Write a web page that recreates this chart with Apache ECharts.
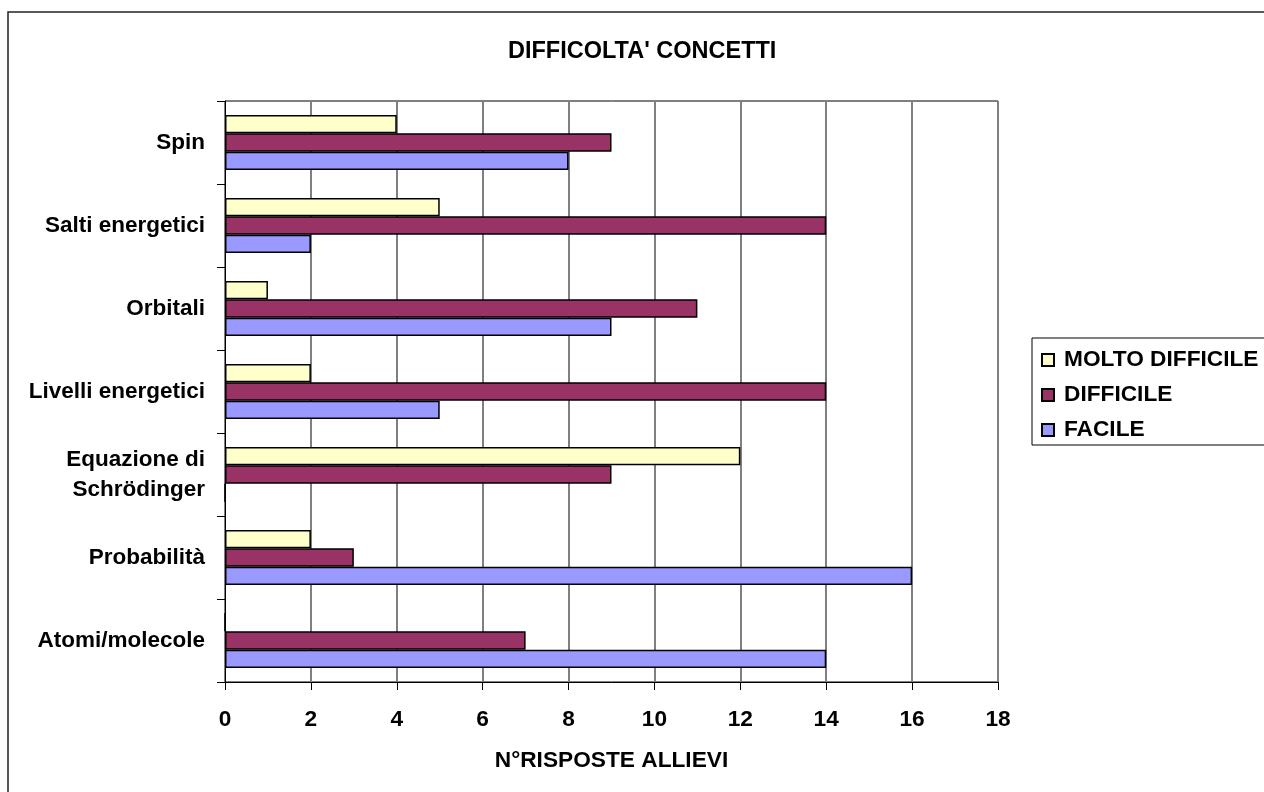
<!DOCTYPE html>
<html>
<head>
<meta charset="utf-8">
<title>DIFFICOLTA' CONCETTI</title>
<script src="https://cdn.jsdelivr.net/npm/echarts@6/dist/echarts.min.js"></script>
<style>
  html, body { margin: 0; padding: 0; background: #fff; }
  #chart { width: 1264px; height: 792px; }
</style>
</head>
<body>
<div id="chart"></div>
<script>
// Concepts, listed bottom to top along the category axis
const categories = [
  'Atomi/molecole',
  'Probabilità',
  'Equazione di\nSchrödinger',
  'Livelli energetici',
  'Orbitali',
  'Salti energetici',
  'Spin'
];

// Number of student answers per difficulty level
const moltoDifficile = [0, 2, 12, 2, 1, 5, 4];
const difficile = [7, 3, 9, 14, 11, 14, 9];
const facile = [14, 16, 0, 5, 9, 2, 8];

const xTicks = { min: 0, max: 18, interval: 2 };

const FONT = "'Liberation Sans', Arial, Helvetica, sans-serif";

const chart = echarts.init(document.getElementById('chart'), null, { renderer: 'canvas' });

const barBorder = { borderColor: '#000', borderWidth: 1.5 };

chart.setOption({
  backgroundColor: '#fff',
  animation: false,
  title: {
    text: "DIFFICOLTA' CONCETTI",
    left: 508,
    top: 40,
    padding: 0,
    textStyle: { fontFamily: FONT, fontSize: 23.5, fontWeight: 'bold', color: '#000', lineHeight: 23 }
  },
  graphic: [{
    type: 'rect',
    silent: true,
    shape: { x: 8, y: 12, width: 1300, height: 820 },
    style: { fill: null, stroke: '#222', lineWidth: 1.5 },
    z: 0
  }],
  legend: {
    data: ['MOLTO DIFFICILE', 'DIFFICILE', 'FACILE'],
    orient: 'vertical',
    left: 1032,
    top: 338,
    padding: [10, 30, 3, 9],
    itemGap: 11,
    itemWidth: 12,
    itemHeight: 12,
    icon: 'rect',
    borderColor: '#000',
    borderWidth: 1,
    selectedMode: false,
    textStyle: { fontFamily: FONT, fontSize: 22.7, fontWeight: 'bold', color: '#000', lineHeight: 24, padding: [0, 0, 0, 5] }
  },
  grid: {
    left: 225,
    right: 266,
    top: 101,
    bottom: 110,
    show: true,
    borderColor: '#000',
    borderWidth: 1,
    containLabel: false
  },
  xAxis: {
    type: 'value',
    min: xTicks.min,
    max: xTicks.max,
    interval: xTicks.interval,
    name: 'N°RISPOSTE ALLIEVI',
    nameLocation: 'middle',
    nameGap: 67,
    nameTextStyle: { fontFamily: FONT, fontSize: 22.7, fontWeight: 'bold', color: '#000' },
    axisLine: { show: true, lineStyle: { color: '#000', width: 1 } },
    axisTick: { show: true, length: 8, inside: false, lineStyle: { color: '#000' } },
    axisLabel: { margin: 26, fontFamily: FONT, fontSize: 22.7, fontWeight: 'bold', color: '#000' },
    splitLine: { show: true, lineStyle: { color: '#808080', width: 2 } }
  },
  yAxis: {
    type: 'category',
    data: categories,
    boundaryGap: true,
    axisLine: { show: true, lineStyle: { color: '#000', width: 1 } },
    axisTick: { show: true, length: 8, inside: false, alignWithLabel: false, lineStyle: { color: '#000' } },
    axisLabel: { margin: 20, fontFamily: FONT, fontSize: 22.5, fontWeight: 'bold', color: '#000', lineHeight: 30, align: 'right' },
    splitLine: { show: false }
  },
  // Series order sets the bar order inside each category: first one on top
  series: [
    {
      name: 'MOLTO DIFFICILE',
      type: 'bar',
      data: moltoDifficile,
      barGap: '0%',
      barCategoryGap: '34%',
      itemStyle: Object.assign({ color: '#FFFFCC' }, barBorder)
    },
    {
      name: 'DIFFICILE',
      type: 'bar',
      data: difficile,
      barGap: '0%',
      barCategoryGap: '34%',
      itemStyle: Object.assign({ color: '#993366' }, barBorder)
    },
    {
      name: 'FACILE',
      type: 'bar',
      data: facile,
      barGap: '0%',
      barCategoryGap: '34%',
      itemStyle: Object.assign({ color: '#9999FF' }, barBorder)
    }
  ]
});
</script>
</body>
</html>
